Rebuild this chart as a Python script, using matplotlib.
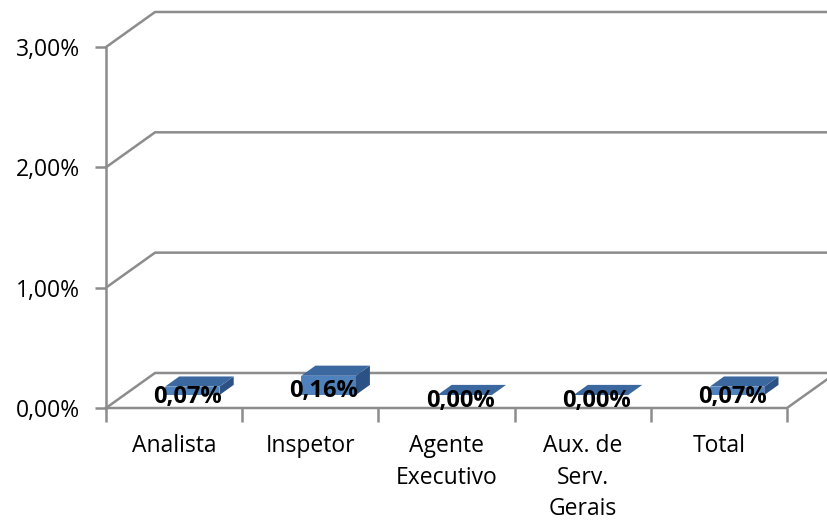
import matplotlib.pyplot as plt
from matplotlib.patches import Polygon

# Data
categories = ['Analista', 'Inspetor', 'Agente\nExecutivo', 'Aux. de\nServ.\nGerais', 'Total']
values = [0.07, 0.16, 0.00, 0.00, 0.07]
value_labels = ['0,07%', '0,16%', '0,00%', '0,00%', '0,07%']
y_ticks = [0, 1, 2, 3]
y_tick_labels = ['0,00%', '1,00%', '2,00%', '3,00%']

# pseudo-3D geometry (depth offset expressed in data units)
DX = 0.36      # category units per full depth
DY = 0.291     # percent units per full depth
d0, d1 = 0.37, 0.66   # bar depth range
bw = 0.40             # bar width

front_c = '#4F81BD'
top_c = '#3C68A0'
side_c = '#2C5285'
grid_c = '#8C8C8C'

plt.rcParams['font.family'] = ['Open Sans', 'DejaVu Sans']

fig = plt.figure(figsize=(8.27, 5.20), dpi=100)
ax = fig.add_axes([106/827, (520-408)/520, (787-106)/827, (408-47)/520])
ax.set_xlim(-0.5, 4.5)
ax.set_ylim(0, 3)
for s in ax.spines.values():
    s.set_visible(False)

def pt(x, y, d):
    return (x + d*DX, y + d*DY)

lw = 1.8
xl, xr = -0.5, 4.5
# gridlines: front-left diagonal, then back wall horizontal
for yv in y_ticks:
    p0, p1 = pt(xl, yv, 0), pt(xl, yv, 1)
    p2 = pt(xr + 0.3, yv, 1)
    ax.plot([p0[0], p1[0], p2[0]], [p0[1], p1[1], p2[1]], color=grid_c, lw=lw,
            clip_on=False, solid_capstyle='butt', zorder=1)
# floor
f = [pt(xl, 0, 0), pt(xr, 0, 0), pt(xr, 0, 1)]
ax.plot([p[0] for p in f], [p[1] for p in f], color=grid_c, lw=lw, clip_on=False, zorder=1)
# left wall front edge
ax.plot([xl, xl], [0, 3], color=grid_c, lw=lw, clip_on=False, zorder=1)

# bars
for i, v in enumerate(values):
    xa, xb = i - bw/2, i + bw/2
    side = [pt(xb, 0, d0), pt(xb, 0, d1), pt(xb, v, d1), pt(xb, v, d0)]
    front = [pt(xa, 0, d0), pt(xb, 0, d0), pt(xb, v, d0), pt(xa, v, d0)]
    top = [pt(xa, v, d0), pt(xb, v, d0), pt(xb, v, d1), pt(xa, v, d1)]
    if v > 0:
        ax.add_patch(Polygon(side, closed=True, fc=side_c, ec='none', zorder=3, clip_on=False))
        ax.add_patch(Polygon(front, closed=True, fc=front_c, ec='none', zorder=3, clip_on=False))
    ax.add_patch(Polygon(top, closed=True, fc=top_c, ec='none', zorder=3, clip_on=False))
    ax.text(i + 0.1, d0*DY + v/2 - 0.05, value_labels[i], ha='center', va='center',
            fontsize=17, fontweight='bold', color='black', zorder=5)

# ticks and labels
ax.set_yticks(y_ticks)
ax.set_yticklabels(y_tick_labels, fontsize=16.5)
ax.tick_params(axis='y', length=8, width=lw, color=grid_c, pad=11)
ax.set_xticks(range(len(categories)))
ax.set_xticklabels(categories, fontsize=16.5, linespacing=1.4)
ax.tick_params(axis='x', length=0, pad=19)
ax.set_xticks([x - 0.5 for x in range(len(categories) + 1)], minor=True)
ax.tick_params(axis='x', which='minor', length=10, width=lw, color=grid_c)

fig.savefig('out.png', dpi=100)
